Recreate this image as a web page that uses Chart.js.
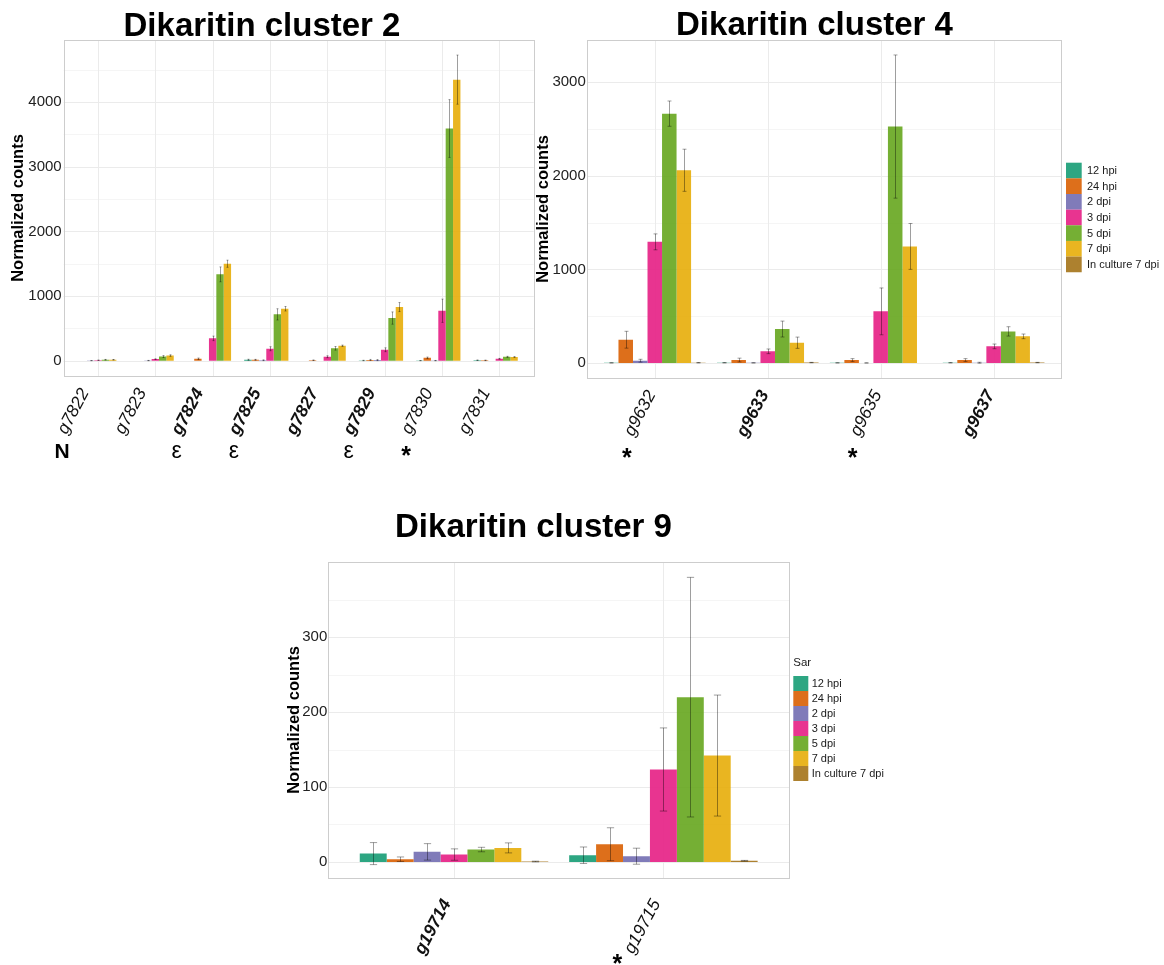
<!DOCTYPE html>
<html>
<head>
<meta charset="utf-8">
<title>Dikaritin clusters – normalized counts</title>
<script src="https://cdn.jsdelivr.net/npm/chart.js@4.4.1/dist/chart.umd.min.js"></script>
<style>
  html, body { margin: 0; padding: 0; background: #ffffff; }
  #page { position: relative; width: 1164px; height: 965px; overflow: hidden; background: #ffffff; }
  #page canvas { position: absolute; }
</style>
</head>
<body>
<div id="page">
  <canvas id="cluster2" width="545" height="470" style="left:0px;top:0px"></canvas>
  <canvas id="cluster4" width="664" height="470" style="left:500px;top:0px"></canvas>
  <canvas id="cluster9" width="660" height="475" style="left:250px;top:490px"></canvas>
</div>
<script>
// ---- sampling timepoints (one bar series each) ----
const TIMEPOINTS = ['12 hpi', '24 hpi', '2 dpi', '3 dpi', '5 dpi', '7 dpi', 'In culture 7 dpi'];
const PALETTE = ['rgba(27,158,119,0.92)', 'rgba(217,95,2,0.9)', 'rgba(117,112,179,0.92)',
                 'rgba(231,41,138,0.95)', 'rgba(102,166,30,0.9)', 'rgba(230,171,2,0.88)',
                 'rgba(166,118,29,0.92)'];

// ---- Dikaritin cluster 2 ----
const c2Genes = ['g7822', 'g7823', 'g7824', 'g7825', 'g7827', 'g7829', 'g7830', 'g7831'];
const c2Bold  = [false, false, true, true, true, true, false, false];
const c2Marks = ['N', '', 'ε', 'ε', '', 'ε', '*', ''];
const c2Ticks = [0, 1000, 2000, 3000, 4000];
// mean normalized counts per gene, in TIMEPOINTS order
const c2Mean = [
  [0, 0, 2, 8, 15, 15, 0],
  [0, 0, 3, 25, 65, 80, 0],
  [0, 30, 0, 346, 1336, 1500, 0],
  [15, 15, 8, 186, 717, 804, 0],
  [0, 8, 0, 62, 192, 232, 0],
  [4, 12, 10, 170, 660, 830, 0],
  [2, 45, 2, 773, 3591, 4347, 0],
  [8, 6, 0, 30, 60, 58, 0]
];
// standard deviation per gene, in TIMEPOINTS order
const c2Err = [
  [0, 0, 1, 3, 5, 4, 0],
  [0, 0, 2, 5, 15, 12, 0],
  [0, 12, 0, 35, 115, 55, 0],
  [8, 6, 6, 31, 87, 35, 0],
  [0, 4, 0, 15, 28, 10, 0],
  [3, 8, 8, 30, 95, 70, 0],
  [1, 12, 2, 180, 447, 380, 0],
  [4, 4, 0, 6, 8, 6, 0]
];

// ---- Dikaritin cluster 4 ----
const c4Genes = ['g9632', 'g9633', 'g9635', 'g9637'];
const c4Bold  = [false, true, false, true];
const c4Marks = ['*', '', '*', ''];
const c4Ticks = [0, 1000, 2000, 3000];
const c4Mean = [
  [2, 249, 25, 1295, 2665, 2060, 3],
  [3, 32, 2, 125, 363, 217, 5],
  [2, 32, 1, 552, 2527, 1246, 0],
  [3, 32, 3, 178, 338, 285, 5]
];
const c4Err = [
  [1, 90, 15, 85, 135, 225, 2],
  [2, 20, 1, 25, 85, 60, 2],
  [1, 15, 1, 250, 765, 245, 0],
  [2, 15, 5, 25, 50, 25, 2]
];

// ---- Dikaritin cluster 9 ----
const c9Genes = ['g19714', 'g19715'];
const c9Bold  = [true, false];
const c9Marks = ['', '*'];
const c9Ticks = [0, 100, 200, 300];
const c9Mean = [
  [11.1, 3.6, 13.4, 9.8, 16.5, 18.7, 0.5],
  [8.9, 23.6, 7.6, 123.4, 220, 142, 1.5]
];
const c9Err = [
  [14.7, 3, 11, 7.6, 3, 6.7, 0.5],
  [11, 22, 10.7, 55.5, 160, 80.8, 0.5]
];

const FONT = "'Liberation Sans', Arial, Helvetica, sans-serif";
Chart.defaults.font.family = FONT;
Chart.defaults.color = '#1a1a1a';

// Panel background grid (major at ticks, minor halfway) and border over the expanded discrete range
const panelGrid = {
  id: 'panelGrid',
  beforeDatasetsDraw(chart, args, o) {
    const { ctx, chartArea: a, scales: { x, y } } = chart;
    const n = chart.data.labels.length;
    const s = (a.right - a.left) / n;
    const L = a.left - o.expand * s, R = a.right + o.expand * s;
    const majors = o.ticks;
    const step = majors[1] - majors[0];
    ctx.save();
    ctx.lineWidth = 1;
    const hline = (v, col) => {
      const py = Math.round(y.getPixelForValue(v)) + 0.5;
      ctx.strokeStyle = col;
      ctx.beginPath(); ctx.moveTo(L, py); ctx.lineTo(R, py); ctx.stroke();
    };
    for (let v = majors[0] - step / 2; v <= y.max; v += step) {
      if (v >= y.min) hline(v, o.minor);
    }
    majors.forEach(v => hline(v, o.major));
    ctx.strokeStyle = o.major;
    for (let i = 0; i < n; i++) {
      const px = Math.round(x.getPixelForTick(i)) + 0.5;
      ctx.beginPath(); ctx.moveTo(px, a.top); ctx.lineTo(px, a.bottom); ctx.stroke();
    }
    ctx.strokeStyle = o.border;
    ctx.strokeRect(Math.round(L) + 0.5, Math.round(a.top) + 0.5, Math.round(R - L), Math.round(a.bottom - a.top));
    ctx.restore();
  }
};

// Mean ± SD whiskers on every bar
const errorBars = {
  id: 'errorBars',
  afterDatasetsDraw(chart, args, o) {
    const { ctx, scales: { y } } = chart;
    ctx.save();
    ctx.strokeStyle = o.color;
    ctx.lineWidth = 1;
    chart.data.datasets.forEach((ds, di) => {
      const meta = chart.getDatasetMeta(di);
      meta.data.forEach((bar, j) => {
        const v = ds.data[j], e = ds.errors[j];
        if (!e) return;
        const top = y.getPixelForValue(v + e), bot = y.getPixelForValue(v - e);
        const cx = Math.round(bar.x) + 0.5, hw = bar.width * o.cap / 2;
        ctx.beginPath();
        ctx.moveTo(cx, top); ctx.lineTo(cx, bot);
        ctx.moveTo(cx - hw, top); ctx.lineTo(cx + hw, top);
        ctx.moveTo(cx - hw, bot); ctx.lineTo(cx + hw, bot);
        ctx.stroke();
      });
    });
    ctx.restore();
  }
};

// Annotation symbols under the gene labels
const geneMarks = {
  id: 'geneMarks',
  afterDraw(chart, args, o) {
    const { ctx, scales: { x } } = chart;
    ctx.save();
    ctx.fillStyle = '#000';
    ctx.textAlign = 'center';
    ctx.textBaseline = 'alphabetic';
    o.symbols.forEach((sym, i) => {
      if (!sym) return;
      ctx.font = o.fonts[sym];
      const m = ctx.measureText(sym);
      const base = o.y + (m.actualBoundingBoxAscent - m.actualBoundingBoxDescent) / 2;
      ctx.fillText(sym, x.getPixelForTick(i) + o.offset, base);
    });
    ctx.restore();
  }
};

// Fill-colour key built from the datasets
const colourKey = {
  id: 'colourKey',
  afterDraw(chart, args, o) {
    if (!o.display) return;
    const { ctx } = chart;
    ctx.save();
    ctx.textAlign = 'left';
    ctx.textBaseline = 'middle';
    ctx.fillStyle = '#1a1a1a';
    if (o.title) {
      ctx.font = `11.5px ${FONT}`;
      ctx.fillText(o.title, o.x, o.titleY);
    }
    ctx.font = `11px ${FONT}`;
    chart.data.datasets.forEach((ds, i) => {
      const top = o.y + i * o.h;
      ctx.fillStyle = ds.backgroundColor;
      ctx.fillRect(o.x, top, o.w, o.h);
      ctx.fillStyle = '#1a1a1a';
      ctx.fillText(ds.label, o.x + o.textGap, top + o.h / 2 + 0.5);
    });
    ctx.restore();
  }
};

// Panel heading
const heading = {
  id: 'heading',
  afterDraw(chart, args, o) {
    const { ctx } = chart;
    ctx.save();
    ctx.font = `bold 33px ${FONT}`;
    ctx.fillStyle = '#000';
    ctx.textAlign = 'center';
    ctx.textBaseline = 'alphabetic';
    ctx.fillText(o.text, o.x, o.y);
    ctx.restore();
  }
};

const MARK_FONTS = {
  'N': `bold 21px ${FONT}`,
  'ε': `23px ${FONT}`,
  '*': `bold 25px ${FONT}`
};

function buildChart(id, c) {
  const datasets = TIMEPOINTS.map((tp, k) => ({
    label: tp,
    data: c.mean.map(row => row[k]),
    errors: c.err.map(row => row[k]),
    backgroundColor: PALETTE[k],
    borderWidth: 0,
    categoryPercentage: 0.9,
    barPercentage: 1.0
  }));
  return new Chart(document.getElementById(id), {
    type: 'bar',
    data: { labels: c.genes, datasets },
    options: {
      responsive: false,
      animation: false,
      events: [],
      layout: { padding: { left: 0, top: c.top, right: c.right, bottom: 0 } },
      scales: {
        x: {
          grid: { display: false, drawTicks: false },
          border: { display: false },
          ticks: {
            autoSkip: false,
            minRotation: 62,
            maxRotation: 62,
            padding: c.xPad,
            labelOffset: c.xShift,
            color: '#111',
            font: ctx => ({ family: FONT, size: 17.5, style: 'italic',
                            weight: c.bold[ctx.index] ? 'bold' : 'normal' })
          },
          afterFit: sc => { sc.height = c.xHeight; }
        },
        y: {
          min: c.yMin,
          max: c.yMax,
          grid: { display: false, drawTicks: false },
          border: { display: false },
          afterBuildTicks: sc => { sc.ticks = c.ticks.map(v => ({ value: v })); },
          ticks: { padding: c.yPad, color: '#222', font: { size: 15 },
                   callback: v => String(v) },
          title: { display: true, text: 'Normalized counts', color: '#000',
                   font: { size: 16.5, weight: 'bold' },
                   padding: { top: c.yTitlePad, bottom: 0 } },
          afterFit: sc => { sc.width = c.yWidth; }
        }
      },
      plugins: {
        legend: { display: false },
        tooltip: { enabled: false },
        title: { display: false },
        panelGrid: { expand: 0.1, ticks: c.ticks, major: '#EBEBEB', minor: '#F5F5F5', border: '#CDCDCD' },
        errorBars: { color: 'rgba(0,0,0,0.38)', cap: 0.27 },
        geneMarks: { symbols: c.marks, offset: c.markOffset, y: c.markY, fonts: MARK_FONTS },
        colourKey: c.key,
        heading: c.heading
      }
    },
    plugins: [panelGrid, errorBars, geneMarks, colourKey, heading]
  });
}

buildChart('cluster2', {
  genes: c2Genes, bold: c2Bold, marks: c2Marks, mean: c2Mean, err: c2Err, ticks: c2Ticks,
  yMin: -236, yMax: 4960,
  top: 40, right: 17, yWidth: 69.3, xHeight: 94,
  yPad: 7.6, xPad: 9, xShift: -13, yTitlePad: 8.6,
  markOffset: -36, markY: 451,
  key: { display: false },
  heading: { text: 'Dikaritin cluster 2', x: 262, y: 36 }
});

buildChart('cluster4', {
  genes: c4Genes, bold: c4Bold, marks: c4Marks, mean: c4Mean, err: c4Err, ticks: c4Ticks,
  yMin: -160, yMax: 3452,
  top: 40, right: 113.9, yWidth: 98.3, xHeight: 92,
  yPad: 12.5, xPad: 9, xShift: -3, yTitlePad: 33.1,
  markOffset: -28, markY: 453,
  key: { display: true, x: 566, y: 162.7, w: 15.7, h: 15.65, textGap: 21 },
  heading: { text: 'Dikaritin cluster 4', x: 314.5, y: 35 }
});

buildChart('cluster9', {
  genes: c9Genes, bold: c9Bold, marks: c9Marks, mean: c9Mean, err: c9Err, ticks: c9Ticks,
  yMin: -21.5, yMax: 400.5,
  top: 72, right: 141.9, yWidth: 99.3, xHeight: 87,
  yPad: 22, xPad: 18, xShift: -7, yTitlePad: 34.1,
  markOffset: -46, markY: 469,
  key: { display: true, title: 'Sar', titleY: 173, x: 543.3, y: 186, w: 15, h: 15, textGap: 18.4 },
  heading: { text: 'Dikaritin cluster 9', x: 283.5, y: 47 }
});
</script>
</body>
</html>
